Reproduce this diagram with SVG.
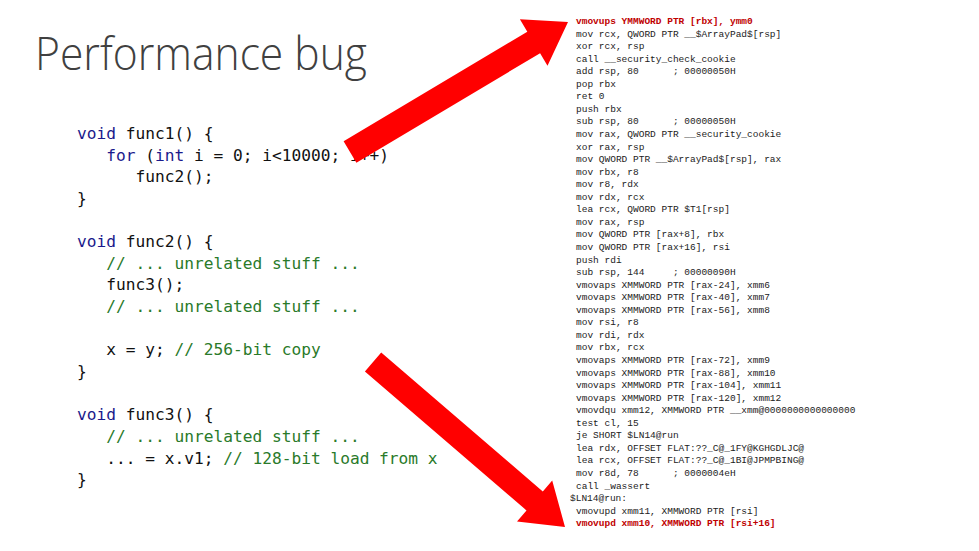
<svg xmlns="http://www.w3.org/2000/svg" width="979" height="551" viewBox="0 0 979 551">
<style>
text{white-space:pre}
.t{font-family:"Open Sans","Liberation Sans",sans-serif;font-weight:300;font-size:46px;fill:#404040}
.c{font-family:"DejaVu Sans Mono","Liberation Mono",monospace;font-size:16.2px;fill:#111}
.k{fill:#1a1a8c}.g{fill:#2a7a2a}
.a{font-family:"Liberation Mono","DejaVu Sans Mono",monospace;font-size:9.5px;fill:#222}
.r{fill:#c00000;font-weight:bold}
.arr{fill:#f00}
</style>
<rect width="979" height="551" fill="#fff"/>
<g id="title"><text class="t" x="35" y="70" textLength="332" lengthAdjust="spacingAndGlyphs">Performance bug</text></g>
<g id="source" class="c">
<text xml:space="preserve" x="77" y="139"><tspan class="k">void</tspan> func1() {</text>
<text xml:space="preserve" x="77" y="161">   <tspan class="k">for</tspan> (<tspan class="k">int</tspan> i = 0; i&lt;10000; i++)</text>
<text xml:space="preserve" x="77" y="182">      func2();</text>
<text xml:space="preserve" x="77" y="204">}</text>
<text xml:space="preserve" x="77" y="247"><tspan class="k">void</tspan> func2() {</text>
<text xml:space="preserve" x="77" y="269" class="g">   // ... unrelated stuff ...</text>
<text xml:space="preserve" x="77" y="290">   func3();</text>
<text xml:space="preserve" x="77" y="312" class="g">   // ... unrelated stuff ...</text>
<text xml:space="preserve" x="77" y="355">   x = y; <tspan class="g">// 256-bit copy</tspan></text>
<text xml:space="preserve" x="77" y="377">}</text>
<text xml:space="preserve" x="77" y="420"><tspan class="k">void</tspan> func3() {</text>
<text xml:space="preserve" x="77" y="442" class="g">   // ... unrelated stuff ...</text>
<text xml:space="preserve" x="77" y="464">   ... = x.v1; <tspan class="g">// 128-bit load from x</tspan></text>
<text xml:space="preserve" x="77" y="485">}</text>
</g>
<g id="asm" class="a">
<text xml:space="preserve" x="576" y="24" class="r">vmovups YMMWORD PTR [rbx], ymm0</text>
<text xml:space="preserve" x="576" y="36.5">mov rcx, QWORD PTR __$ArrayPad$[rsp]</text>
<text xml:space="preserve" x="576" y="49">xor rcx, rsp</text>
<text xml:space="preserve" x="576" y="61.6">call __security_check_cookie</text>
<text xml:space="preserve" x="576" y="74.2">add rsp, 80      ; 00000050H</text>
<text xml:space="preserve" x="576" y="86.7">pop rbx</text>
<text xml:space="preserve" x="576" y="99.3">ret 0</text>
<text xml:space="preserve" x="576" y="111.8">push rbx</text>
<text xml:space="preserve" x="576" y="124.4">sub rsp, 80      ; 00000050H</text>
<text xml:space="preserve" x="576" y="137">mov rax, QWORD PTR __security_cookie</text>
<text xml:space="preserve" x="576" y="149.5">xor rax, rsp</text>
<text xml:space="preserve" x="576" y="162">mov QWORD PTR __$ArrayPad$[rsp], rax</text>
<text xml:space="preserve" x="576" y="174.6">mov rbx, r8</text>
<text xml:space="preserve" x="576" y="187.2">mov r8, rdx</text>
<text xml:space="preserve" x="576" y="199.7">mov rdx, rcx</text>
<text xml:space="preserve" x="576" y="212.3">lea rcx, QWORD PTR $T1[rsp]</text>
<text xml:space="preserve" x="576" y="224.8">mov rax, rsp</text>
<text xml:space="preserve" x="576" y="237.4">mov QWORD PTR [rax+8], rbx</text>
<text xml:space="preserve" x="576" y="250">mov QWORD PTR [rax+16], rsi</text>
<text xml:space="preserve" x="576" y="262.5">push rdi</text>
<text xml:space="preserve" x="576" y="275">sub rsp, 144     ; 00000090H</text>
<text xml:space="preserve" x="576" y="287.6">vmovaps XMMWORD PTR [rax-24], xmm6</text>
<text xml:space="preserve" x="576" y="300.2">vmovaps XMMWORD PTR [rax-40], xmm7</text>
<text xml:space="preserve" x="576" y="312.7">vmovaps XMMWORD PTR [rax-56], xmm8</text>
<text xml:space="preserve" x="576" y="325.3">mov rsi, r8</text>
<text xml:space="preserve" x="576" y="337.8">mov rdi, rdx</text>
<text xml:space="preserve" x="576" y="350.4">mov rbx, rcx</text>
<text xml:space="preserve" x="576" y="363">vmovaps XMMWORD PTR [rax-72], xmm9</text>
<text xml:space="preserve" x="576" y="375.5">vmovaps XMMWORD PTR [rax-88], xmm10</text>
<text xml:space="preserve" x="576" y="388">vmovaps XMMWORD PTR [rax-104], xmm11</text>
<text xml:space="preserve" x="576" y="400.6">vmovaps XMMWORD PTR [rax-120], xmm12</text>
<text xml:space="preserve" x="576" y="413.2">vmovdqu xmm12, XMMWORD PTR __xmm@0000000000000000</text>
<text xml:space="preserve" x="576" y="425.7">test cl, 15</text>
<text xml:space="preserve" x="576" y="438.3">je SHORT $LN14@run</text>
<text xml:space="preserve" x="576" y="450.8">lea rdx, OFFSET FLAT:??_C@_1FY@KGHGDLJC@</text>
<text xml:space="preserve" x="576" y="463.4">lea rcx, OFFSET FLAT:??_C@_1BI@JPMPBING@</text>
<text xml:space="preserve" x="576" y="476">mov r8d, 78      ; 0000004eH</text>
<text xml:space="preserve" x="576" y="488.5">call _wassert</text>
<text xml:space="preserve" x="570" y="501">$LN14@run:</text>
<text xml:space="preserve" x="576" y="513.6">vmovupd xmm11, XMMWORD PTR [rsi]</text>
<text xml:space="preserve" x="576" y="526.2" class="r">vmovupd xmm10, XMMWORD PTR [rsi+16]</text>
</g>
<g id="connectors">
<polygon class="arr" points="343.6,141.3 527.3,31.8 519.9,19.3 568,22 547.5,65.7 540.1,53.2 356.4,162.7"/>
<polygon class="arr" points="381.2,352.5 542.8,491.4 552.2,480.4 565,527 517,521.4 526.5,510.4 364.9,371.5"/>
</g>
</svg>
